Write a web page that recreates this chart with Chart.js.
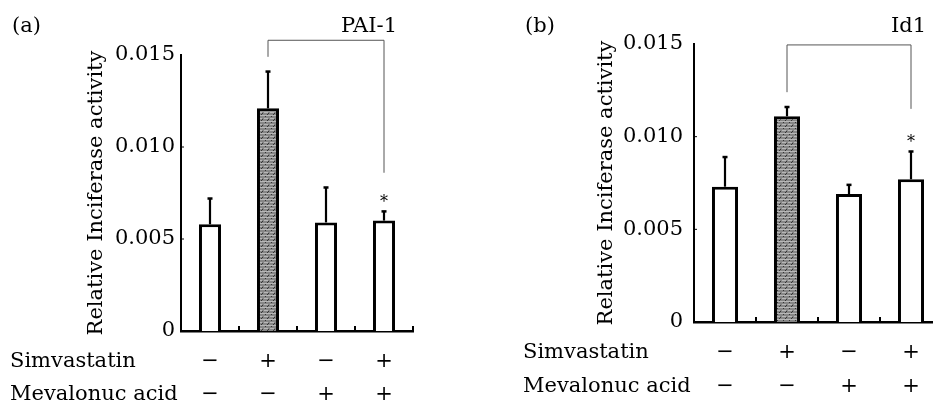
<!DOCTYPE html>
<html>
<head>
<meta charset="utf-8">
<script src="https://cdn.jsdelivr.net/npm/chart.js@4.4.1/dist/chart.umd.min.js"></script>
<style>
  html, body { margin: 0; padding: 0; background: #fff; }
  body { width: 933px; height: 405px; overflow: hidden; position: relative; }
  canvas { position: absolute; top: 0; }
  #chartA { left: 0; }
  #chartB { left: 470px; }
</style>
</head>
<body>
<canvas id="chartA" width="465" height="405"></canvas>
<canvas id="chartB" width="480" height="405"></canvas>
<script>
// treatment combinations: [Simvastatin, Mevalonuc acid]
const categories = [['\u2212', '\u2212'], ['+', '\u2212'], ['\u2212', '+'], ['+', '+']];
const rowLabels = ['Simvastatin', 'Mevalonuc acid'];
const yTicks = [0, 0.005, 0.010, 0.015];

// (a) PAI-1
const paiMeans = [0.0058, 0.0121, 0.0059, 0.0060];
const paiSD = [0.0014, 0.0020, 0.0019, 0.0005];
// (b) Id1
const id1Means = [0.0073, 0.0111, 0.0069, 0.0077];
const id1SD = [0.0016, 0.0005, 0.0005, 0.0015];

const significant = [false, false, false, true];

const FONT = '"DejaVu Serif", "Liberation Serif", serif';

// grey stippled fill for the simvastatin-only bar
function greyPattern() {
    const c = document.createElement('canvas');
    c.width = 6; c.height = 6;
    const g = c.getContext('2d');
    g.fillStyle = '#868686';
    g.fillRect(0, 0, 6, 6);
    g.fillStyle = '#b8b8b8';
    g.fillRect(0, 1, 6, 1);
    g.fillRect(0, 4, 4, 1);
    g.fillStyle = '#333';
    g.fillRect(1, 2, 1, 1);
    g.fillRect(4, 5, 1, 1);
    g.fillRect(3, 0, 1, 1);
    return g.createPattern(c, 'repeat');
}

const extrasPlugin = {
    id: 'extras',
    afterDatasetsDraw(chart, args, opts) {
        const ctx = chart.ctx;
        const x = chart.scales.x, y = chart.scales.y;
        const meta = chart.getDatasetMeta(0);
        const area = chart.chartArea;
        ctx.save();
        ctx.strokeStyle = '#000';
        // error bars (upper half only)
        opts.means.forEach((m, i) => {
            const bar = meta.data[i];
            const top = y.getPixelForValue(m + opts.sd[i]);
            ctx.lineWidth = 2.2;
            ctx.beginPath();
            ctx.moveTo(bar.x, bar.y);
            ctx.lineTo(bar.x, top);
            ctx.stroke();
            ctx.lineWidth = 2.5;
            ctx.beginPath();
            ctx.moveTo(bar.x - 2.5, top);
            ctx.lineTo(bar.x + 2.5, top);
            ctx.stroke();
            if (significant[i]) {
                ctx.fillStyle = '#000';
                ctx.font = '16px ' + FONT;
                ctx.textAlign = 'center';
                ctx.textBaseline = 'middle';
                ctx.fillText('*', bar.x, top - 9);
            }
        });
        // small upward ticks on the x axis at category boundaries
        ctx.lineWidth = 2;
        for (let i = 0; i < categories.length; i++) {
            const bx = i < categories.length - 1
                ? (x.getPixelForValue(i) + x.getPixelForValue(i + 1)) / 2
                : area.right;
            ctx.beginPath();
            ctx.moveTo(bx, area.bottom);
            ctx.lineTo(bx, area.bottom - 5);
            ctx.stroke();
        }
        // tiny inner ticks on y axis
        ctx.lineWidth = 1;
        yTicks.slice(1, -1).forEach(v => {
            const py = y.getPixelForValue(v);
            ctx.beginPath();
            ctx.moveTo(area.left, py);
            ctx.lineTo(area.left + 3, py);
            ctx.stroke();
        });
        // comparison bracket
        const b = opts.bracket;
        const x1 = x.getPixelForValue(b.from), x2 = x.getPixelForValue(b.to);
        ctx.strokeStyle = '#555';
        ctx.lineWidth = 1;
        ctx.beginPath();
        ctx.moveTo(x1, y.getPixelForValue(b.leftEnd));
        ctx.lineTo(x1, y.getPixelForValue(b.level));
        ctx.lineTo(x2, y.getPixelForValue(b.level));
        ctx.lineTo(x2, y.getPixelForValue(b.rightEnd));
        ctx.stroke();
        // texts
        ctx.fillStyle = '#000';
        ctx.font = '21px ' + FONT;
        ctx.textBaseline = 'middle';
        ctx.textAlign = 'left';
        ctx.fillText(opts.panel, opts.panelX, 27);
        ctx.textAlign = 'right';
        ctx.fillText(opts.gene, opts.geneX, 27);
        ctx.textAlign = 'left';
        ctx.fillText(rowLabels[0], opts.rowX, area.bottom + 31);
        ctx.fillText(rowLabels[1], opts.rowX, area.bottom + 31 + opts.rowGap);
        ctx.restore();
    }
};

function makePanel(id, means, sd, lay) {
    const isGrey = means.map((m, i) => i === 1);
    const fill = greyPattern();
    return new Chart(document.getElementById(id), {
        type: 'bar',
        data: {
            labels: categories,
            datasets: [{
                data: means,
                backgroundColor: isGrey.map(g => g ? fill : '#fff'),
                borderColor: '#000',
                borderWidth: 3,
                barPercentage: lay.barPct,
                categoryPercentage: 1
            }]
        },
        options: {
            responsive: false,
            animation: false,
            devicePixelRatio: 1,
            layout: { padding: { top: lay.top, right: lay.right, left: 0, bottom: 0 } },
            plugins: {
                legend: { display: false },
                tooltip: { enabled: false },
                extras: {
                    means: means, sd: sd, bracket: lay.bracket,
                    panel: lay.panel, panelX: lay.panelX,
                    gene: lay.gene, geneX: lay.geneX,
                    rowX: lay.rowX, rowGap: lay.rowGap
                }
            },
            scales: {
                x: {
                    grid: { display: false, drawTicks: false },
                    border: { display: true, color: '#000', width: 2.5 },
                    ticks: {
                        color: '#000',
                        padding: lay.xPad,
                        maxRotation: 0,
                        autoSkip: false,
                        font: { family: FONT, size: 21, lineHeight: lay.rowGap + 'px' }
                    },
                    afterFit: s => { s.height = lay.xHeight; }
                },
                y: {
                    min: 0,
                    max: 0.015,
                    grid: { display: false, drawTicks: false },
                    border: { display: true, color: '#000', width: 2 },
                    afterBuildTicks: s => { s.ticks = yTicks.map(v => ({ value: v })); },
                    ticks: {
                        color: '#000',
                        padding: lay.yPad,
                        font: { family: FONT, size: 21 },
                        callback: v => v === 0 ? '0' : v.toFixed(3)
                    },
                    title: {
                        display: true,
                        text: 'Relative Inciferase activity',
                        color: '#000',
                        font: { family: FONT, size: 21, lineHeight: 1.2 },
                        padding: { top: lay.titlePad, bottom: 0 }
                    },
                    afterFit: s => { s.width = lay.yWidth; }
                }
            }
        },
        plugins: [extrasPlugin]
    });
}

makePanel('chartA', paiMeans, paiSD, {
    top: 55, right: 52, yWidth: 181, xHeight: 74, barPct: 0.38,
    xPad: 14.5, yPad: 6, titlePad: 84, rowGap: 33,
    bracket: { from: 1, to: 3, level: 0.0158, leftEnd: 0.0149, rightEnd: 0.0086 },
    panel: '(a)', panelX: 12, gene: 'PAI-1', geneX: 397, rowX: 10
});

makePanel('chartB', id1Means, id1SD, {
    top: 44, right: 8, yWidth: 224, xHeight: 83, barPct: 0.42,
    xPad: 14, yPad: 11, titlePad: 124, rowGap: 34,
    bracket: { from: 1, to: 3, level: 0.01495, leftEnd: 0.0124, rightEnd: 0.0115 },
    panel: '(b)', panelX: 55, gene: 'Id1', geneX: 456, rowX: 53
});
</script>
</body>
</html>
